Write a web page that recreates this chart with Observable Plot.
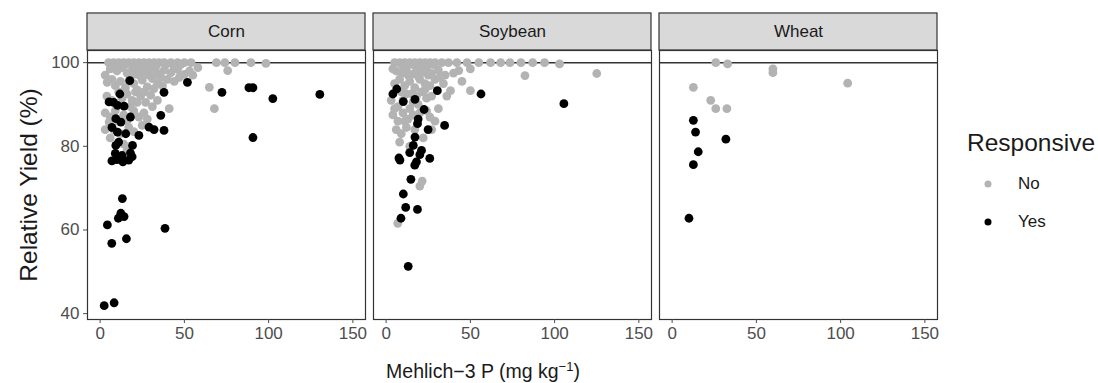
<!DOCTYPE html>
<html><head><meta charset="utf-8">
<script src="https://cdn.jsdelivr.net/npm/d3@7"></script>
<script src="https://cdn.jsdelivr.net/npm/@observablehq/plot@0.6"></script>
<style>
body{margin:0;background:#fff;font-family:"Liberation Sans",Arial,sans-serif;}
#wrap{position:relative;width:1098px;height:383px;overflow:hidden;background:#fff;}
#chart{position:absolute;left:0;top:0;}
.ytitle{position:absolute;left:29px;top:185px;transform:translate(-50%,-50%) rotate(-90deg);font-size:24.5px;color:#1a1a1a;white-space:nowrap;}
.xtitle{position:absolute;left:483px;top:371px;transform:translate(-50%,-50%);font-size:19.5px;color:#1a1a1a;white-space:nowrap;}
.ltitle{position:absolute;left:967px;top:143px;transform:translateY(-50%);font-size:24.5px;color:#1a1a1a;white-space:nowrap;}
.litem{position:absolute;left:1018px;transform:translateY(-50%);font-size:17px;color:#1a1a1a;}
.ldot{position:absolute;width:7px;height:7px;border-radius:50%;transform:translate(-50%,-50%);}
</style></head>
<body>
<div id="wrap">
  <div id="chart"></div>
  <div class="ytitle">Relative Yield (%)</div>
  <div class="xtitle">Mehlich−3 P (mg kg<sup style="font-size:13px">−1</sup>)</div>
  <div class="ltitle">Responsive</div>
  <div class="ldot" style="left:988px;top:184px;background:#b3b3b3"></div>
  <div class="litem" style="top:184px">No</div>
  <div class="ldot" style="left:988px;top:222px;background:#000"></div>
  <div class="litem" style="top:222px">Yes</div>
</div>
<script>
const crops = ["Corn", "Soybean", "Wheat"];
const responses = ["No", "Yes"];
const xTicks = [0, 50, 100, 150];
const yTicks = [40, 60, 80, 100];

// [Mehlich-3 P, relative yield]
const cornNo = [
 [5,100],[8,100],[11,100],[14,100],[17,100],[20,100],[23,100],[26,100],[29,100],[32,100],[35,100],[38,100],[42,100],[46,100],[50,100],[54,100],[69,100],[74,100],[80,100],[89.5,100],[98.4,99.8],
 [6,98.5],[10,98],[13,98.8],[16,97.5],[19,98.2],[22,97.2],[25,98.6],[28,97.8],[31,98.5],[34,97.4],[38,98.2],[42,97.6],[46,98.4],[50,97.2],[53,98],[55,97],[75.7,98.1],[58,98.8],
 [4.2,95.3],[7,96],[9,94.5],[12,95.5],[15,94],[20,95],[22,93.5],[25,95.8],[28,94.2],[31,96.2],[34,95],[40,96],[44,95.5],[47,96.5],[64.8,94.1],
 [4,92],[7,91],[13,91.5],[16,92.5],[19,91],[21,93],[24,92],[27,90.5],[30,92.2],[34,91],[41,89],
 [3,88],[6,87],[14,87.5],[16,86],[20,88.5],[23,87],[26,88],[31,89.5],[5.3,85.8],[67.8,89.0],
 [8,84],[12,83],[17,84.5],[20,83.5],[14,80.5],[16,79],[12,77.5],
 [3,97],[9,99],[15,99.5],[21,99],[27,99.3],[33,99],[39,99.5],[44,99],[48,99.6],[18,96.5],[24,96.8],[29,97],[36,96.5],
 [11,93],[17,95.5],[26,93],[32,93.8],[37,94.5],[9,88.5],[18,89.5],[22,90.5],[28,86.5],[11,86],[25,85],[6,82],[3,84]
];
const cornYes = [
 [2.4,41.9],[8.3,42.6],
 [13.2,67.5],[12.3,64.0],[14.2,63.2],[10.8,62.8],[4.3,61.2],[6.9,56.8],[15.6,57.9],[38.5,60.4],
 [7,76.5],[10,76.8],[13.5,76.3],[17,76.7],[19,77.5],[9,78.3],[13,77.8],[18,78.4],
 [9.3,80.2],[19.2,80.2],[11,81],[10.3,83.4],[15.2,83],[23,82.6],
 [9.3,86.6],[12.3,85.8],[7,84.5],[29,84.6],[32,84],[37.9,83.8],[36,87.4],
 [5.3,90.6],[10.3,89.8],[14.2,89.6],[8,90.5],[11.7,92.5],[17.6,95.7],[18,87],
 [37.9,92.9],[51.8,95.3],
 [72.3,92.9],[88.3,94.0],[90.7,94.0],[102.5,91.4],[130.4,92.4],[90.7,82.1]
];
const soyNo = [
 [5,100],[8,100],[11,100],[14,100],[17,100],[20,100],[23,100],[26,100],[29,100],[33,100],[37,100],[42,100],[48,100],[55,100],[62,100],[68,100],[73.5,100],[80,100],[87,100],[94,100],[102.9,99.7],
 [6,98],[9,97.5],[12,98.5],[15,97.2],[18,98.2],[21,97.6],[24,98.8],[27,97.4],[31,98.2],[35,97],[43.1,98.1],[82.4,96.9],[125,97.4],[50,98.5],
 [5,95],[8,96],[11,94.5],[14,95.5],[17,94],[20,96],[23,95],[26,94.5],[29,96],[34,95],[38.2,93.3],[50,93.3],
 [3,91],[7,89.5],[12,92.5],[14,89],[19,90],[24,91.5],[27,92],[21,93],
 [4,87.5],[7,86],[10,88],[13,86.5],[16,87.5],[26,87],[29,86],
 [6,84],[9,83],[12,84.5],[22,82],[27,84],[14,80],[21.4,71.7],[6.9,61.6],[20,70.5],
 [4,98.5],[10,99.2],[16,99.5],[22,99.2],[28,99.5],[13,97],[19,96.8],[25,97],[32,96.5],[9,93],[15,92.5],[18,92],[23,93.5],
 [10,91],[16,90.5],[5,89],[11,86],[20,88],[24,88.5],[8,81],[17,84],[31,89],[36,92],[45,95.5],[40,97.5]
];
const soyYes = [
 [6.3,93.7],[30.4,93.3],[17.1,91.2],[10.2,90.7],[22.5,88.8],[56.3,92.5],[105.5,90.2],[34.7,85],[18.6,85.4],[24.9,84.0],
 [17.1,82.2],[16.1,80.2],[21,79],[7.6,77.2],[18,76.3],[25.9,77.1],[8.2,76.7],[17,75.5],[14.7,72.1],[10.2,68.6],
 [11.6,65.4],[18.6,64.9],[8.8,62.8],[13.1,51.3],[20,78],[14,78.5],[19,86.5],[4,92.5]
];
const wheatNo = [
 [25.9,100],[32.9,99.7],[59.8,98.5],[59.8,97.6],[12.6,94.1],[22.9,91],[25.9,89],[32.5,89],[104.2,95.1]
];
const wheatYes = [
 [12.6,86.2],[13.9,83.4],[31.9,81.7],[15.5,78.7],[12.6,75.6],[10,62.8]
];

const xDomain = [-7.5, 157.5];
const yDomain = [38.6, 102.9];
const stripTop = 111.75;

const rows = (crop, resp, pts) => pts.map(([p, ry]) => ({crop, resp, p, ry}));
const noData = [...rows("Corn","No",cornNo), ...rows("Soybean","No",soyNo), ...rows("Wheat","No",wheatNo)];
const yesData = [...rows("Corn","Yes",cornYes), ...rows("Soybean","Yes",soyYes), ...rows("Wheat","Yes",wheatYes)];

const plot = Plot.plot({
  width: 945, height: 352,
  marginLeft: 87, marginRight: 8, marginTop: 50, marginBottom: 33,
  style: {fontFamily: '"Liberation Sans", Arial, sans-serif', fontSize: "17px", background: "transparent"},
  fx: {domain: crops, paddingInner: 0.028, paddingOuter: 0, axis: null, label: null},
  x: {domain: xDomain, label: null},
  y: {domain: yDomain, label: null},
  marks: [
    Plot.rect(crops, {fx: d => d, x1: xDomain[0], x2: xDomain[1], y1: yDomain[1], y2: stripTop, fill: "#d9d9d9", stroke: "#333", strokeWidth: 1.2}),
    Plot.text(crops, {fx: d => d, x: (xDomain[0] + xDomain[1]) / 2, y: (yDomain[1] + stripTop) / 2, text: d => d, fill: "#1a1a1a", fontSize: 17}),
    Plot.ruleY([100], {stroke: "#333", strokeWidth: 1.5}),
    Plot.dot(noData, {fx: "crop", x: "p", y: "ry", r: 4.4, fill: "#b3b3b3", stroke: "none"}),
    Plot.dot(yesData, {fx: "crop", x: "p", y: "ry", r: 4.4, fill: "#000", stroke: "none"}),
    Plot.frame({stroke: "#333", strokeWidth: 1.2}),
    Plot.axisX({ticks: xTicks, tickSize: 4, tickPadding: 3, fontSize: 17, color: "#4d4d4d", label: null}),
    Plot.axisY({ticks: yTicks, tickSize: 4, tickPadding: 4, fontSize: 17, color: "#4d4d4d", label: null})
  ]
});
document.getElementById("chart").appendChild(plot);
</script>
</body></html>
